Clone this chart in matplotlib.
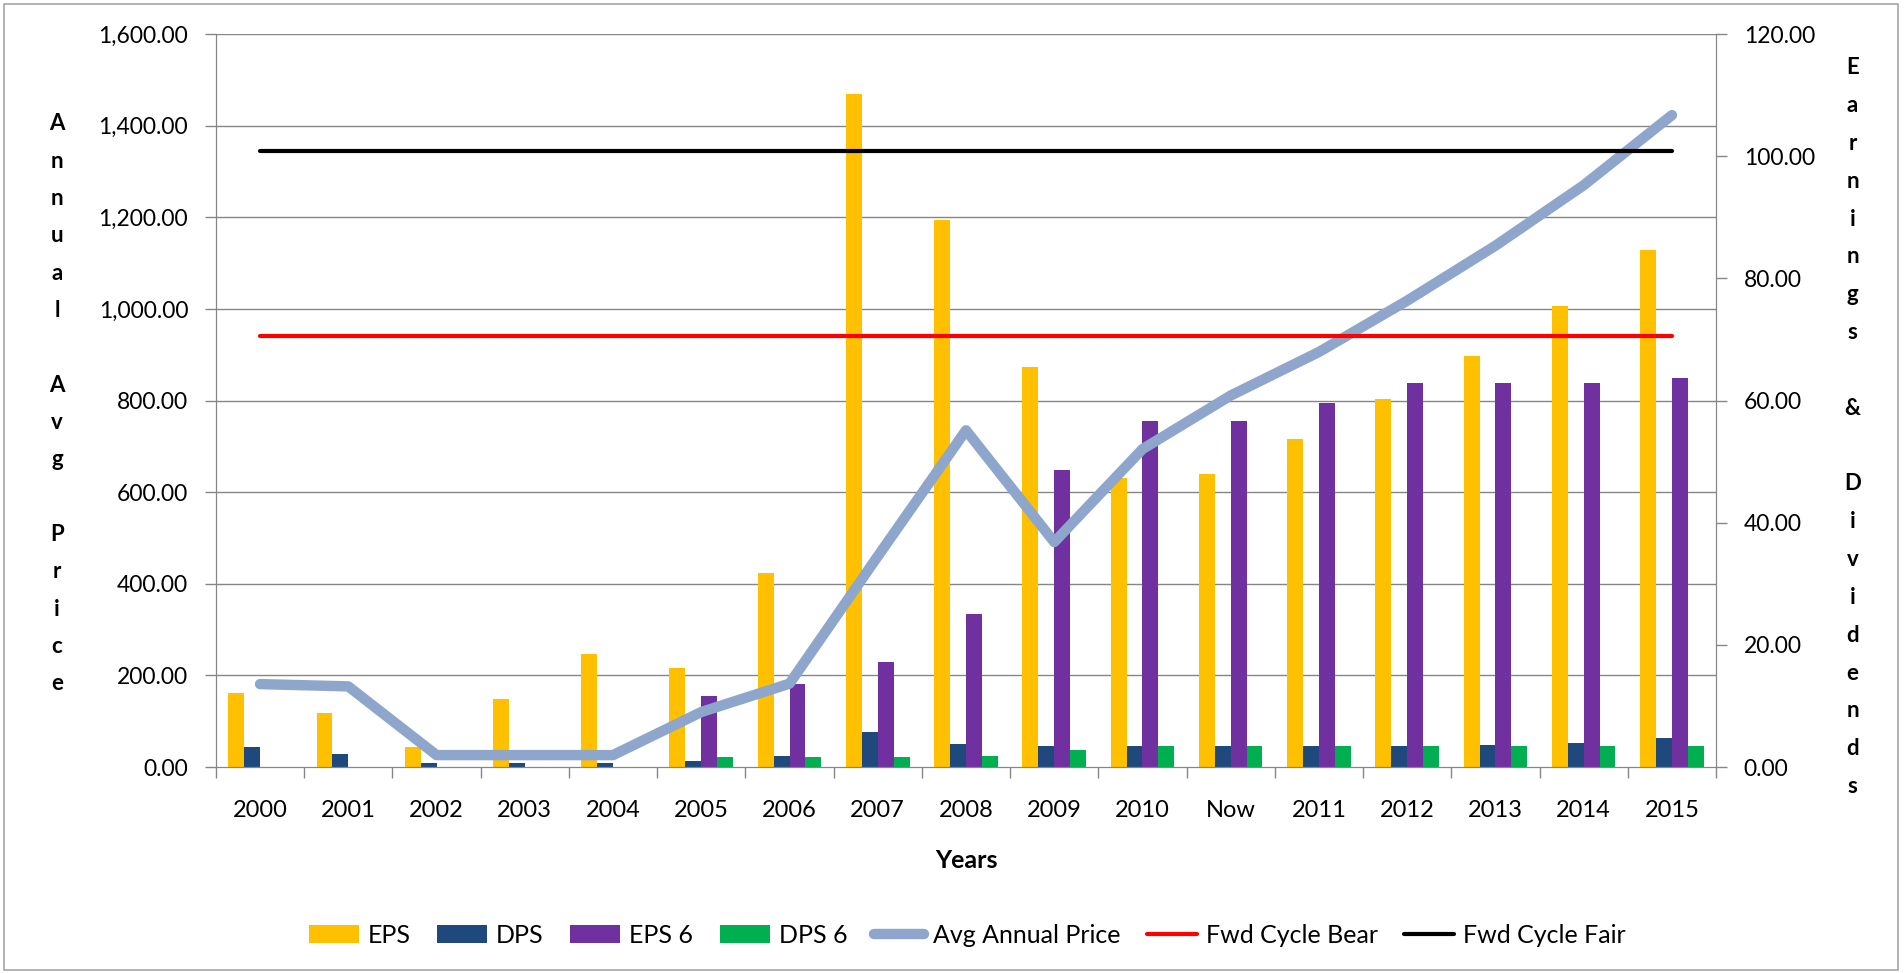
import numpy as np
import matplotlib
matplotlib.use("Agg")
import matplotlib.pyplot as plt
from matplotlib.ticker import FuncFormatter, FixedLocator
from matplotlib.patches import Rectangle

plt.rcParams['font.family'] = ['Lato', 'DejaVu Sans']

years = ["2000", "2001", "2002", "2003", "2004", "2005", "2006", "2007", "2008",
         "2009", "2010", "Now", "2011", "2012", "2013", "2014", "2015"]

# earnings & dividends (right axis)
eps = [12.15, 8.85, 3.23, 11.1, 18.45, 16.2, 31.7, 110.25, 89.5, 65.5, 47.25,
       48.0, 53.7, 60.2, 67.35, 75.5, 84.6]
dps = [3.35, 2.1, 0.67, 0.67, 0.67, 1.05, 1.88, 5.67, 3.83, 3.41, 3.43,
       3.43, 3.43, 3.43, 3.59, 4.01, 4.68]
eps6 = [0, 0, 0, 0, 0, 11.6, 13.6, 17.2, 25.0, 48.6, 56.7,
        56.7, 59.6, 62.85, 62.85, 62.85, 63.75]
dps6 = [0, 0, 0, 0, 0, 1.6, 1.6, 1.6, 1.85, 2.73, 3.43,
        3.43, 3.43, 3.43, 3.43, 3.43, 3.5]

# prices (left axis)
avg_price = [181, 176, 26, 26, 26, 120, 182, 460, 735, 491, 694,
             811, 906, 1018, 1138, 1270, 1423]
fwd_bear = [940] * 17
fwd_fair = [1345] * 17

grey = "#868686"
x = np.arange(len(years))
w = 0.18

fig = plt.figure(figsize=(19.04, 9.73), dpi=100)
fig.patches.append(Rectangle((0.002, 0.003), 0.995, 0.993, transform=fig.transFigure,
                             fill=False, edgecolor="#a6a6a6", linewidth=1.2))
ax = fig.add_axes([0.1134, 0.2117, 0.7879, 0.7533])
ax2 = ax.twinx()

# bars on the base axes (right scale), lines on top (left scale)
ax.bar(x - 1.5 * w, eps, w, color="#FFC000", label="EPS", zorder=2)
ax.bar(x - 0.5 * w, dps, w, color="#1F497D", label="DPS", zorder=2)
ax.bar(x + 0.5 * w, eps6, w, color="#7030A0", label="EPS 6", zorder=2)
ax.bar(x + 1.5 * w, dps6, w, color="#00B050", label="DPS 6", zorder=2)

ax2.plot(x, avg_price, color="#8EA6CC", lw=7.5, solid_capstyle="round",
         solid_joinstyle="round", label="Avg Annual Price")
ax2.plot(x, fwd_bear, color="#FF0000", lw=3, solid_capstyle="round", label="Fwd Cycle Bear")
ax2.plot(x, fwd_fair, color="#000000", lw=3, solid_capstyle="round", label="Fwd Cycle Fair")

ax.set_xlim(-0.5, 16.5)
ax.set_ylim(0, 120)
ax2.set_ylim(0, 1600)
ax.set_yticks(np.arange(0, 121, 20))
ax2.set_yticks(np.arange(0, 1601, 200))
ax.yaxis.tick_right()
ax2.yaxis.tick_left()
fmt = FuncFormatter(lambda v, p: "{:,.2f}".format(v))
ax.yaxis.set_major_formatter(fmt)
ax2.yaxis.set_major_formatter(fmt)

# gridlines every 200 on the price scale
for g in np.arange(15, 121, 15):
    ax.axhline(g, color=grey, lw=1, zorder=0)

ax.xaxis.set_major_locator(FixedLocator(np.arange(-0.5, 17, 1)))
ax.xaxis.set_major_formatter(FuncFormatter(lambda v, p: ""))
ax.set_xticks(x, years, minor=True)
ax.tick_params(axis="x", which="major", length=8, color=grey, width=1)
ax.tick_params(axis="x", which="minor", length=0, labelsize=17, pad=24)
ax.tick_params(axis="y", length=8, color=grey, width=1, labelsize=16.5, pad=12)
ax2.tick_params(axis="y", length=8, color=grey, width=1, labelsize=16.5, pad=12)

for a in (ax, ax2):
    for s in a.spines.values():
        s.set_color(grey)
    a.spines["top"].set_visible(False)

ax.set_xlabel("Years", fontsize=18, fontweight="bold", labelpad=20)

left_lbl = "\n".join("Annual") + "\n\n" + "\n".join("Avg") + "\n\n" + "\n".join("Price")
right_lbl = "\n".join("Earnings") + "\n\n&\n\n" + "\n".join("Dividends")
fig.text(0.030, 0.585, left_lbl, ha="center", va="center", fontsize=16,
         fontweight="bold", linespacing=1.96)
fig.text(0.973, 0.561, right_lbl, ha="center", va="center", fontsize=16,
         fontweight="bold", linespacing=1.99)

h1, l1 = ax.get_legend_handles_labels()
h2, l2 = ax2.get_legend_handles_labels()
fig.legend(h1 + h2, l1 + l2, loc="center", bbox_to_anchor=(0.508, 0.039), ncol=7,
           frameon=False, fontsize=18, handlelength=2.0, handletextpad=0.35,
           columnspacing=1.07)

fig.savefig("out.png", dpi=100)
